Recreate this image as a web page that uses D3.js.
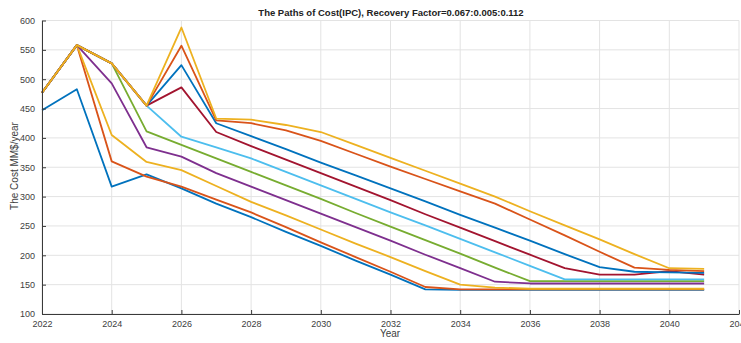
<!DOCTYPE html>
<html>
<head>
<meta charset="utf-8">
<script src="https://cdn.jsdelivr.net/npm/d3@7/dist/d3.min.js"></script>
<style>
  html, body { margin: 0; padding: 0; background: #fff; }
  svg { display: block; font-family: "Liberation Sans", Arial, Helvetica, sans-serif; }
</style>
</head>
<body>
<svg id="chart" width="741" height="343"></svg>
<script>
// Years of the projection
const years = d3.range(2022, 2042);

// Recovery factors 0.067:0.005:0.112
const recoveryFactors = [0.067, 0.072, 0.077, 0.082, 0.087, 0.092, 0.097, 0.102, 0.107, 0.112];

// Cost paths (MM$/year), one array per recovery factor, 2022..2041
const cost067 = [447, 483, 317, 338, 314, 288, 265, 240, 216, 191, 167, 142, 141, 141, 141, 141, 141, 141, 141, 141];
const cost072 = [477, 558, 360, 334, 317, 295, 273, 248, 222, 197, 172, 146, 142, 142, 142, 142, 142, 142, 142, 142];
const cost077 = [477, 558, 405, 359, 345, 318, 291, 268, 244, 220, 197, 173, 150, 145, 143, 143, 143, 143, 143, 143];
const cost082 = [477, 558, 493, 384, 368, 340, 317, 294, 271, 248, 225, 201, 178, 155, 152, 152, 152, 152, 152, 152];
const cost087 = [477, 558, 527, 411, 388, 365, 342, 319, 296, 272, 249, 226, 203, 179, 156, 156, 156, 156, 156, 156];
const cost092 = [477, 558, 527, 455, 402, 384, 365, 342, 319, 296, 273, 251, 228, 205, 182, 159, 159, 159, 159, 159];
const cost097 = [477, 558, 527, 455, 486, 410, 386, 363, 340, 317, 294, 270, 247, 224, 201, 178, 167, 167, 173, 167];
const cost102 = [477, 558, 527, 455, 524, 425, 403, 381, 358, 336, 314, 292, 269, 247, 225, 202, 180, 172, 171, 170];
const cost107 = [477, 558, 527, 455, 557, 430, 425, 413, 395, 373, 351, 330, 309, 288, 261, 234, 206, 179, 175, 173];
const cost112 = [477, 558, 527, 455, 588, 433, 431, 422, 410, 388, 366, 344, 322, 300, 275, 251, 227, 202, 178, 177];

const costPaths = [cost067, cost072, cost077, cost082, cost087, cost092, cost097, cost102, cost107, cost112];

// Axis ticks
const xTicks = d3.range(2022, 2043, 2);
const yTicks = d3.range(100, 601, 50);

// Default line colour order
const lineColors = ["#0072BD", "#D95319", "#EDB120", "#7E2F8E", "#77AC30", "#4DBEEE", "#A2142F"];

const svg = d3.select("#chart");
const plotLeft = 42, plotRight = 739, plotTop = 20.5, plotBottom = 314;

const x = d3.scaleLinear().domain([2022, 2042]).range([plotLeft, plotRight]);
const y = d3.scaleLinear().domain([100, 600]).range([plotBottom, plotTop]);

// Grid
const grid = svg.append("g").attr("stroke", "#e3e3e3").attr("stroke-width", 1);
grid.selectAll("line.gx").data(xTicks).join("line")
  .attr("x1", d => x(d)).attr("x2", d => x(d))
  .attr("y1", plotTop).attr("y2", plotBottom);
grid.selectAll("line.gy").data(yTicks).join("line")
  .attr("x1", plotLeft).attr("x2", plotRight)
  .attr("y1", d => y(d)).attr("y2", d => y(d));

// Paths
const line = d3.line().x((d, i) => x(years[i])).y(d => y(d));
svg.append("g").selectAll("path").data(costPaths).join("path")
  .attr("d", d => line(d))
  .attr("fill", "none")
  .attr("stroke", (d, i) => lineColors[i % lineColors.length])
  .attr("stroke-width", 1.8)
  .attr("stroke-linejoin", "round");

// Axes (ticks pointing inward)
const xAxis = d3.axisBottom(x).tickValues(xTicks).tickFormat(d3.format("d")).tickSizeInner(-4).tickSizeOuter(0).tickPadding(7);
const yAxis = d3.axisLeft(y).tickValues(yTicks).tickSizeInner(-4).tickSizeOuter(0).tickPadding(7);

const gx = svg.append("g").attr("transform", `translate(0,${plotBottom})`).call(xAxis);
const gy = svg.append("g").attr("transform", `translate(${plotLeft},0)`).call(yAxis);
[gx, gy].forEach(g => {
  g.select(".domain").attr("stroke", "#3a3a3a").attr("stroke-width", 1);
  g.selectAll(".tick line").attr("stroke", "#3a3a3a");
  g.selectAll(".tick text").attr("fill", "#404040").style("font-size", "9px")
    .style("font-family", "'Liberation Sans', Arial, sans-serif");
});

// Title
svg.append("text")
  .attr("x", 391).attr("y", 15.5)
  .attr("text-anchor", "middle")
  .style("font-size", "9.5px").style("font-weight", "bold")
  .attr("fill", "#222")
  .text("The Paths of Cost(IPC), Recovery Factor=0.067:0.005:0.112");

// Axis titles
svg.append("text")
  .attr("x", 390).attr("y", 337)
  .attr("text-anchor", "middle")
  .style("font-size", "10px")
  .attr("fill", "#404040")
  .text("Year");

svg.append("text")
  .attr("transform", "translate(18,166) rotate(-90)")
  .attr("text-anchor", "middle")
  .style("font-size", "10px")
  .attr("fill", "#404040")
  .text("The Cost MM$/year");
</script>
</body>
</html>
